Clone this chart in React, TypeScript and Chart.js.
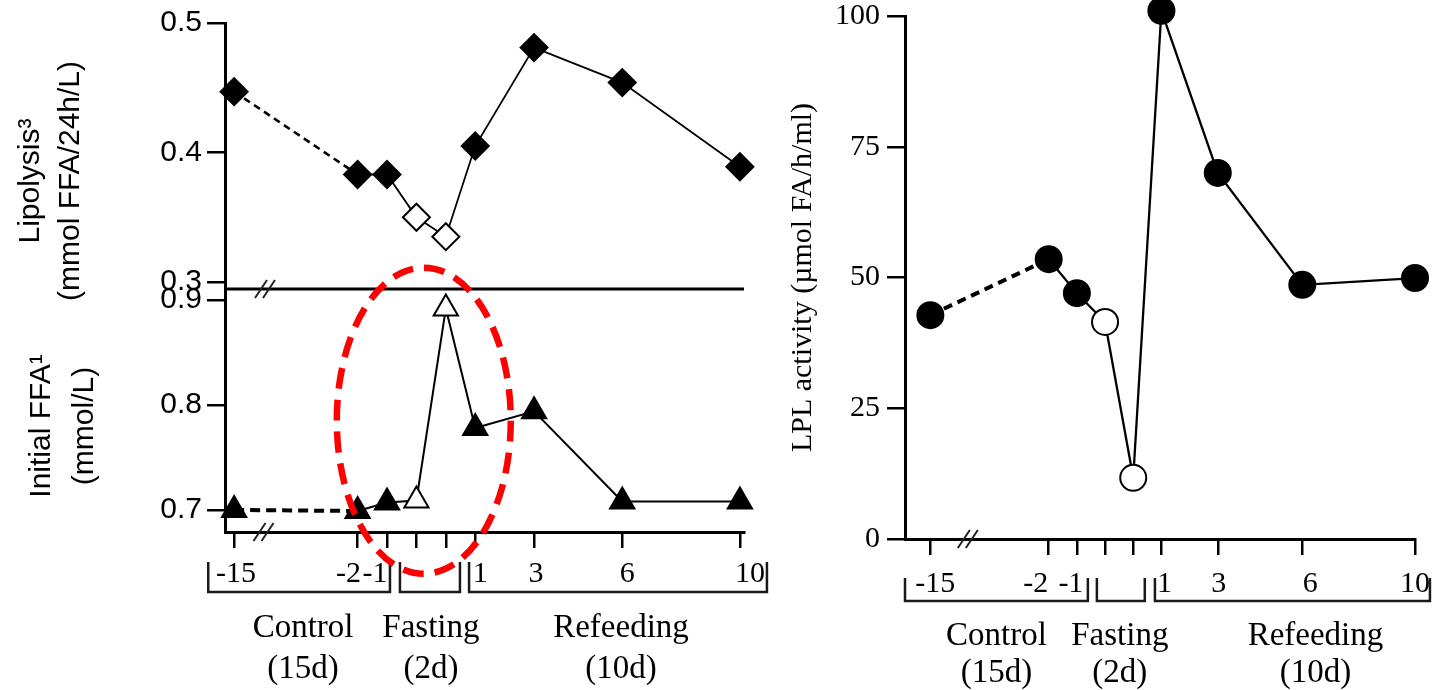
import React, { useEffect, useRef } from 'react';
import { Chart, registerables } from 'chart.js';

Chart.register(...registerables);

// ---- data ----
// positions of the sampling days on the (broken) time axis:
// day -15, -2, -1, fasting day 1, fasting day 2, refeeding day 1, 3, 6, 10
const DAY_POSITIONS = [-6.2, -2, -1, 0, 1, 2, 4, 7, 11];
const DAY_LABELS = ['-15', '-2', '-1', '', '', '1', '3', '6', '10'];
const PHASES = ['control', 'control', 'control', 'fasting', 'fasting', 'refeeding', 'refeeding', 'refeeding', 'refeeding'];

const LIPOLYSIS = [0.447, 0.383, 0.383, 0.350, 0.335, 0.405, 0.481, 0.454, 0.389];
const INITIAL_FFA = [0.700, 0.699, 0.707, 0.709, 0.892, 0.778, 0.794, 0.708, 0.708];
const LPL_ACTIVITY = [42.8, 53.5, 47.0, 41.5, 11.7, 101, 70, 48.6, 49.9];

const LIPOLYSIS_TICKS = [0.3, 0.4, 0.5];
const FFA_TICKS = [0.7, 0.8, 0.9];
const LPL_TICKS = [0, 25, 50, 75, 100];

const GROUP_NAMES = ['Control', 'Fasting', 'Refeeding'];
const GROUP_DURATIONS = ['(15d)', '(2d)', '(10d)'];

// ---- layout (styling only) ----
const SERIF = '"Liberation Serif", "Times New Roman", serif';
const SANS = '"Liberation Sans", Arial, sans-serif';

const LEFT_LAYOUT = {
  xMin: -6.51, xMax: 11.14,
  labelDx: [2, -9, -12, 0, 0, 5, 2, 5, 10],
  brackets: [[-7.08, -0.9], [-0.56, 1.48], [1.79, 11.92]],
  groupDx: [4, 1, 3],
  bracketTop: 30, bracketBottom: 60, labelY: 42, nameY: 96, durY: 137,
  breakPos: -5.15,
};
const RIGHT_LAYOUT = {
  xMin: -7.1, xMax: 11.0,
  labelDx: [5, -13, -6, 0, 0, 3, 1, 8, 0],
  brackets: [[-7.1, -0.61], [-0.29, 1.41], [1.77, 11.53]],
  groupDx: [0, -1, 23],
  bracketTop: 39, bracketBottom: 62, labelY: 45, nameY: 97, durY: 134,
  breakPos: -4.87,
};

const pointFill = (i: number) => (PHASES[i] === 'fasting' ? '#ffffff' : '#000000');
const fills = PHASES.map((_, i) => pointFill(i));

function drawBreak(ctx: CanvasRenderingContext2D, px: number, py: number) {
  ctx.save();
  ctx.strokeStyle = '#222';
  ctx.lineWidth = 2;
  for (const d of [-4, 4]) {
    ctx.beginPath();
    ctx.moveTo(px + d - 6, py + 9);
    ctx.lineTo(px + d + 6, py - 9);
    ctx.stroke();
  }
  ctx.restore();
}

function drawRotated(ctx: CanvasRenderingContext2D, text: string, x: number, y: number, font: string) {
  ctx.save();
  ctx.translate(x, y);
  ctx.rotate(-Math.PI / 2);
  ctx.font = font;
  ctx.fillStyle = '#000';
  ctx.textAlign = 'center';
  ctx.textBaseline = 'middle';
  ctx.fillText(text, 0, 0);
  ctx.restore();
}

function drawTimeline(chart: any, L: typeof LEFT_LAYOUT) {
  const ctx: CanvasRenderingContext2D = chart.ctx;
  const xs = chart.scales.x;
  const base = chart.chartArea.bottom;
  ctx.save();
  // brackets
  ctx.strokeStyle = '#1a1a1a';
  ctx.lineWidth = 2.5;
  L.brackets.forEach(([a, b]) => {
    const x0 = xs.getPixelForValue(a);
    const x1 = xs.getPixelForValue(b);
    ctx.beginPath();
    ctx.moveTo(x0, base + L.bracketTop);
    ctx.lineTo(x0, base + L.bracketBottom);
    ctx.lineTo(x1, base + L.bracketBottom);
    ctx.lineTo(x1, base + L.bracketTop);
    ctx.stroke();
  });
  // day labels
  ctx.fillStyle = '#000';
  ctx.font = `30px ${SERIF}`;
  ctx.textAlign = 'center';
  ctx.textBaseline = 'middle';
  DAY_POSITIONS.forEach((v, i) => {
    if (!DAY_LABELS[i]) return;
    ctx.fillText(DAY_LABELS[i], xs.getPixelForValue(v) + L.labelDx[i], base + L.labelY);
  });
  // group labels
  ctx.font = `33px ${SERIF}`;
  L.brackets.forEach(([a, b], g) => {
    const cx = (xs.getPixelForValue(a) + xs.getPixelForValue(b)) / 2 + L.groupDx[g];
    ctx.fillText(GROUP_NAMES[g], cx, base + L.nameY);
    ctx.fillText(GROUP_DURATIONS[g], cx, base + L.durY);
  });
  ctx.restore();
}

const leftDecor = {
  id: 'leftDecor',
  afterDraw(chart: any) {
    const ctx: CanvasRenderingContext2D = chart.ctx;
    const area = chart.chartArea;
    const xs = chart.scales.x;
    const yTop = chart.scales.yTop;
    const yBot = chart.scales.yBot;
    ctx.save();
    // separator between panels
    ctx.strokeStyle = '#000';
    ctx.lineWidth = 3;
    ctx.beginPath();
    ctx.moveTo(area.left, yTop.bottom);
    ctx.lineTo(area.right, yTop.bottom);
    ctx.stroke();
    ctx.restore();
    drawBreak(ctx, xs.getPixelForValue(LEFT_LAYOUT.breakPos), yTop.bottom);
    drawBreak(ctx, xs.getPixelForValue(LEFT_LAYOUT.breakPos - 0.05), area.bottom);
    // axis titles
    drawRotated(ctx, 'Lipolysis³', 31, 181, `30px ${SANS}`);
    drawRotated(ctx, '(mmol FFA/24h/L)', 71, 181, `30px ${SANS}`);
    drawRotated(ctx, 'Initial FFA¹', 42, 426, `30px ${SANS}`);
    drawRotated(ctx, '(mmol/L)', 85, 426, `30px ${SANS}`);
    drawTimeline(chart, LEFT_LAYOUT);
    // red dashed highlight ellipse around the fasting response
    ctx.save();
    ctx.strokeStyle = '#ff0000';
    ctx.lineWidth = 6.5;
    ctx.setLineDash([21, 11]);
    ctx.beginPath();
    ctx.ellipse(xs.getPixelForValue(0.25), yBot.getPixelForValue(0.785), 87, 153, 0, 0, Math.PI * 2);
    ctx.stroke();
    ctx.restore();
  },
};

const rightDecor = {
  id: 'rightDecor',
  afterDraw(chart: any) {
    const ctx: CanvasRenderingContext2D = chart.ctx;
    const xs = chart.scales.x;
    drawBreak(ctx, xs.getPixelForValue(RIGHT_LAYOUT.breakPos), chart.chartArea.bottom);
    drawTimeline(chart, RIGHT_LAYOUT);
  },
};

const xAxis = (L: typeof LEFT_LAYOUT, height: number) => ({
  type: 'linear' as const,
  min: L.xMin,
  max: L.xMax,
  afterBuildTicks: (s: any) => { s.ticks = DAY_POSITIONS.map((v) => ({ value: v })); },
  afterFit: (s: any) => { s.height = height; s.paddingLeft = 0; s.paddingRight = 0; },
  ticks: { display: false },
  grid: { drawOnChartArea: false, drawTicks: true, tickLength: 16, color: '#000', lineWidth: 2.5 },
  border: { display: true, color: '#000', width: 3 },
});

const yFit = (w: number) => (s: any) => { s.width = w; s.paddingTop = 0; s.paddingBottom = 0; };

const firstDashed = (dash: number[], width: number) => ({
  borderDash: (c: any) => (c.p0DataIndex === 0 ? dash : undefined),
  borderWidth: (c: any) => (c.p0DataIndex === 0 ? width : undefined),
});

export default function App() {
  const leftRef = useRef<HTMLCanvasElement>(null);
  const rightRef = useRef<HTMLCanvasElement>(null);

  useEffect(() => {
    const left = new Chart(leftRef.current as HTMLCanvasElement, {
      type: 'line',
      data: {
        datasets: [
          {
            label: 'Lipolysis',
            data: DAY_POSITIONS.map((x, i) => ({ x, y: LIPOLYSIS[i] })),
            xAxisID: 'x',
            yAxisID: 'yTop',
            borderColor: '#000',
            borderWidth: 1.8,
            pointStyle: 'rectRot',
            pointRadius: 13.5,
            pointBackgroundColor: fills,
            pointBorderColor: '#000',
            pointBorderWidth: 2,
            segment: firstDashed([7, 5], 2.6),
            clip: false,
          } as any,
          {
            label: 'Initial FFA',
            data: DAY_POSITIONS.map((x, i) => ({ x, y: INITIAL_FFA[i] })),
            xAxisID: 'x',
            yAxisID: 'yBot',
            borderColor: '#000',
            borderWidth: 2,
            pointStyle: 'triangle',
            pointRadius: 14,
            pointBackgroundColor: fills,
            pointBorderColor: '#000',
            pointBorderWidth: 2,
            segment: firstDashed([10, 6], 4),
            clip: false,
          } as any,
        ],
      },
      options: {
        responsive: false,
        animation: false,
        devicePixelRatio: 1,
        layout: { padding: { top: 23, right: 36, left: 0, bottom: 0 } },
        plugins: { legend: { display: false }, tooltip: { enabled: false } },
        scales: {
          x: xAxis(LEFT_LAYOUT, 158),
          yBot: {
            type: 'linear',
            position: 'left',
            stack: 'left',
            stackWeight: 243,
            min: 0.679,
            max: 0.9105,
            afterBuildTicks: (s: any) => { s.ticks = FFA_TICKS.map((v) => ({ value: v })); },
            afterFit: yFit(225),
            ticks: { font: { family: SANS, size: 30 }, color: '#000', padding: 5, callback: (v: any) => Number(v).toFixed(1) },
            grid: { drawOnChartArea: false, drawTicks: true, tickLength: 18, color: '#000', lineWidth: 2.5 },
            border: { display: true, color: '#000', width: 3 },
          },
          yTop: {
            type: 'linear',
            position: 'left',
            stack: 'left',
            stackWeight: 266,
            min: 0.2946,
            max: 0.5,
            afterBuildTicks: (s: any) => { s.ticks = LIPOLYSIS_TICKS.map((v) => ({ value: v })); },
            afterFit: yFit(225),
            ticks: { font: { family: SANS, size: 30 }, color: '#000', padding: 5, callback: (v: any) => Number(v).toFixed(1) },
            grid: { drawOnChartArea: false, drawTicks: true, tickLength: 18, color: '#000', lineWidth: 2.5 },
            border: { display: true, color: '#000', width: 3 },
          },
        } as any,
      },
      plugins: [leftDecor],
    });

    const right = new Chart(rightRef.current as HTMLCanvasElement, {
      type: 'line',
      data: {
        datasets: [
          {
            label: 'LPL activity',
            data: DAY_POSITIONS.map((x, i) => ({ x, y: LPL_ACTIVITY[i] })),
            borderColor: '#000',
            borderWidth: 2.3,
            pointStyle: 'circle',
            pointRadius: 13,
            pointBackgroundColor: fills,
            pointBorderColor: '#000',
            pointBorderWidth: 2,
            segment: firstDashed([9, 6], 4),
            clip: false,
          } as any,
        ],
      },
      options: {
        responsive: false,
        animation: false,
        devicePixelRatio: 1,
        layout: { padding: { top: 16, right: 19, left: 0, bottom: 0 } },
        plugins: { legend: { display: false }, tooltip: { enabled: false } },
        scales: {
          x: xAxis(RIGHT_LAYOUT, 151),
          y: {
            type: 'linear',
            position: 'left',
            min: 0,
            max: 100,
            afterBuildTicks: (s: any) => { s.ticks = LPL_TICKS.map((v) => ({ value: v })); },
            afterFit: yFit(125),
            title: {
              display: true,
              text: 'LPL activity (µmol FA/h/ml)',
              font: { family: SERIF, size: 30 },
              color: '#000',
              padding: { top: 5, bottom: 0 },
            },
            ticks: { font: { family: SERIF, size: 30 }, color: '#000', padding: 7, callback: (v: any) => String(v) },
            grid: { drawOnChartArea: false, drawTicks: true, tickLength: 18, color: '#000', lineWidth: 2.5 },
            border: { display: true, color: '#000', width: 3 },
          },
        } as any,
      },
      plugins: [rightDecor],
    });

    return () => {
      left.destroy();
      right.destroy();
    };
  }, []);

  return (
    <div style={{ position: 'fixed', left: 0, top: 0, width: 1434, height: 690, background: '#fff' }}>
      <canvas
        ref={leftRef}
        width={780}
        height={690}
        style={{ position: 'absolute', left: 0, top: 0, width: 780, height: 690 }}
      />
      <canvas
        ref={rightRef}
        width={654}
        height={690}
        style={{ position: 'absolute', left: 780, top: 0, width: 654, height: 690 }}
      />
    </div>
  );
}
